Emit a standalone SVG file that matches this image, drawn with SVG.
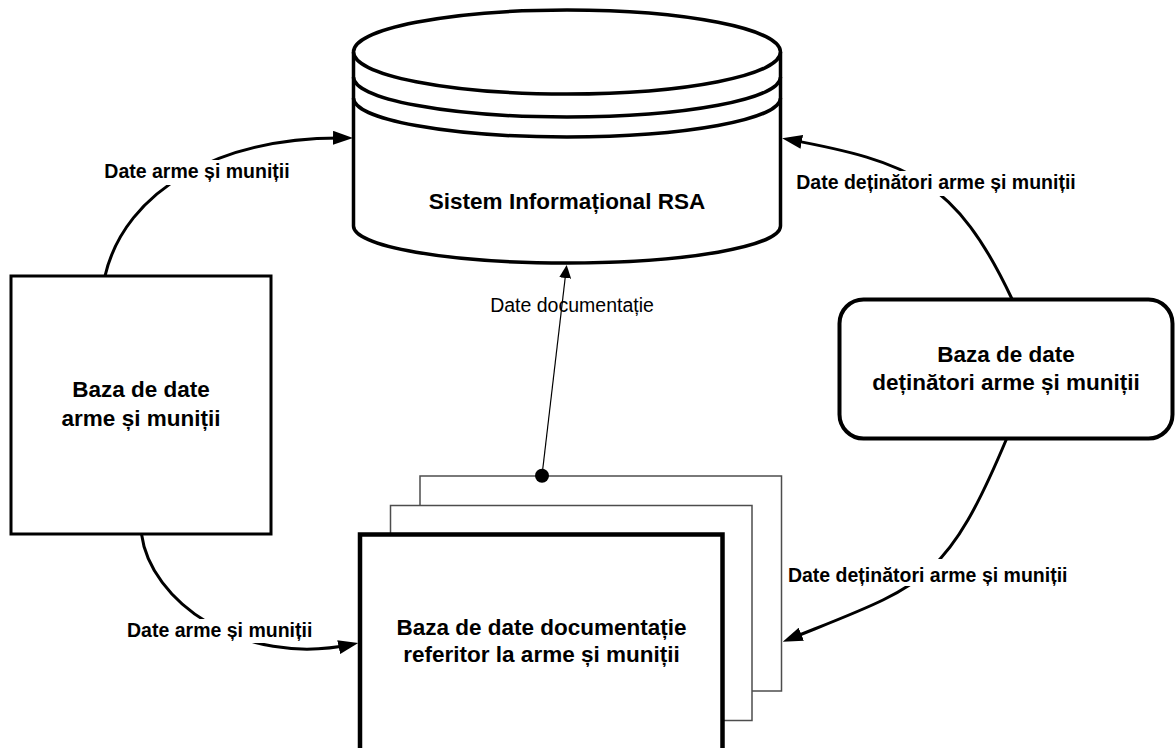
<svg xmlns="http://www.w3.org/2000/svg" width="1175" height="748" viewBox="0 0 1175 748">
<style>
.node-text{font-family:"Liberation Sans",Arial,sans-serif;font-weight:bold;font-size:22.5px;fill:#000;text-anchor:middle}
.lbl{font-family:"Liberation Sans",Arial,sans-serif;font-weight:bold;font-size:19.5px;fill:#000;text-anchor:middle}
.lbl-thin{font-family:"Liberation Sans",Arial,sans-serif;font-size:19.5px;fill:#000;text-anchor:middle}
.conn{fill:none;stroke:#000;stroke-width:3}
.knock{fill:#fff;stroke:none}
.page{fill:#fff;stroke:#4d4d4d;stroke-width:1.5}
</style>
<defs>
<marker id="arr" viewBox="0 0 20 14" refX="14" refY="7" markerWidth="20" markerHeight="14" markerUnits="userSpaceOnUse" orient="auto">
<path d="M0,0 L20,7 L0,14 Z" fill="#000"/>
</marker>
<marker id="arrThin" viewBox="0 0 13 12" refX="8" refY="6" markerWidth="13" markerHeight="12" markerUnits="userSpaceOnUse" orient="auto">
<path d="M0,0 L13,6 L0,12 Z" fill="#000"/>
</marker>
</defs>
<rect width="1175" height="748" fill="#fff"/>

<g id="sistem-rsa">
<path d="M353.5,52 A213.5,42 0 0 1 780.5,52 L780.5,226 A213.5,37 0 0 1 353.5,226 Z" fill="#fff" stroke="#000" stroke-width="3.5"/>
<path d="M353.5,52 A213.5,42 0 0 0 780.5,52" fill="none" stroke="#000" stroke-width="3.5"/>
<path d="M353.5,77 A213.5,40 0 0 0 780.5,77" fill="none" stroke="#000" stroke-width="3.5"/>
<path d="M353.5,98 A213.5,39 0 0 0 780.5,98" fill="none" stroke="#000" stroke-width="3.5"/>
<text class="node-text" x="567" y="209">Sistem Informațional RSA</text>
</g>

<g id="baza-arme">
<rect x="11" y="276" width="260" height="258" fill="#fff" stroke="#000" stroke-width="3"/>
<text class="node-text" x="141" y="397">Baza de date</text>
<text class="node-text" x="141" y="425.5">arme și muniții</text>
</g>

<g id="baza-detinatori">
<rect x="839.5" y="299.5" width="333" height="139" rx="24" ry="24" fill="#fff" stroke="#000" stroke-width="4"/>
<text class="node-text" x="1006" y="361.5">Baza de date</text>
<text class="node-text" x="1006" y="389.5">deținători arme și muniții</text>
</g>

<g id="baza-documentatie">
<rect class="page" x="420" y="476" width="361.5" height="215"/>
<rect class="page" x="390.5" y="505.5" width="361.5" height="215"/>
<rect x="360" y="534.5" width="362.5" height="220" fill="#fff" stroke="#000" stroke-width="4.5"/>
<text class="node-text" x="541.5" y="635">Baza de date documentație</text>
<text class="node-text" x="541.5" y="661.5">referitor la arme și muniții</text>
</g>

<g id="connectors">
<path class="conn" d="M105,276 C125,190 220,136 347,138" marker-end="url(#arr)"/>
<path class="conn" d="M1012,299 C956,180 910,162 788,139.4" marker-end="url(#arr)"/>
<path class="conn" d="M1006.5,439 C944.8,585.8 921.8,585.6 788.3,639.5" marker-end="url(#arr)"/>
<path class="conn" d="M141.5,534 C150,600 240,668 352.4,644.3" marker-end="url(#arr)"/>
<path d="M542,475.5 L566.1,270" fill="none" stroke="#000" stroke-width="1.2" marker-end="url(#arrThin)"/>
<circle cx="542" cy="475.7" r="7" fill="#000"/>

<rect class="knock" x="101" y="160" width="192" height="25"/>
<text class="lbl" x="197" y="177.5">Date arme și muniții</text>
<rect class="knock" x="792" y="171" width="288" height="25"/>
<text class="lbl" x="936" y="189.3">Date deținători arme și muniții</text>
<rect class="knock" x="784" y="559" width="288" height="27"/>
<text class="lbl" x="927.7" y="581.7">Date deținători arme și muniții</text>
<rect class="knock" x="123" y="619" width="193" height="24"/>
<text class="lbl" x="219.7" y="636.7">Date arme și muniții</text>
<text class="lbl-thin" x="572" y="312">Date documentație</text>
</g>
</svg>
